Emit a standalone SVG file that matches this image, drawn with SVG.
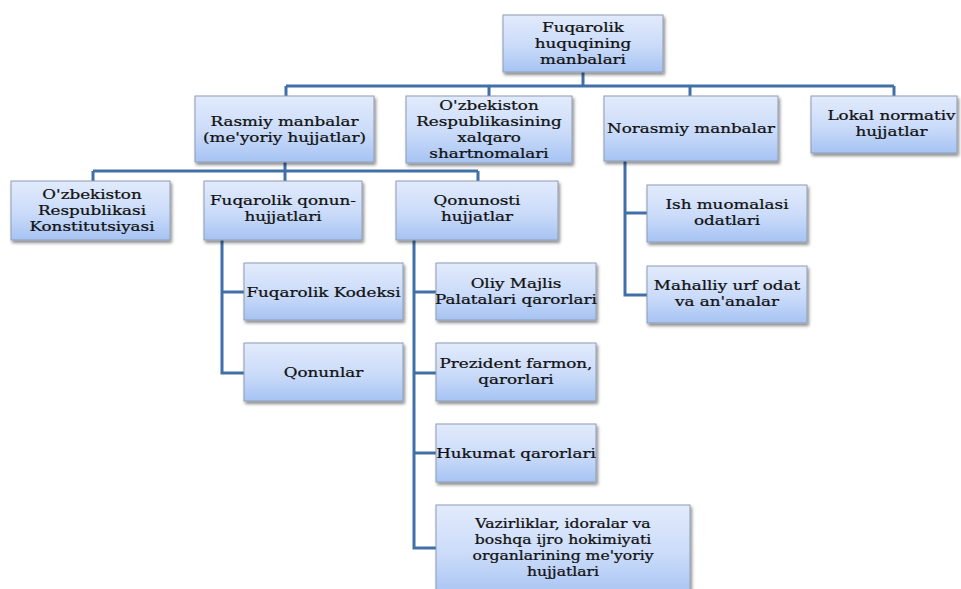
<svg xmlns="http://www.w3.org/2000/svg" width="961" height="589" viewBox="0 0 961 589">
<defs>
<linearGradient id="bg" x1="0" y1="0" x2="0" y2="1">
<stop offset="0" stop-color="#e2ebfc"/>
<stop offset="0.55" stop-color="#cadbf9"/>
<stop offset="1" stop-color="#a6c3f3"/>
</linearGradient>
<filter id="sh" x="-10%" y="-10%" width="130%" height="140%">
<feDropShadow dx="1.5" dy="2.5" stdDeviation="1.5" flood-color="#000" flood-opacity="0.45"/>
</filter>
</defs>
<style>
.box{fill:url(#bg);stroke:#8d9cb3;stroke-width:1;filter:url(#sh)}
.t{font-family:"DejaVu Serif","Liberation Serif",serif;font-size:13.5px;fill:#111;stroke:#111;stroke-width:0.25;text-anchor:middle}
.s{font-size:12.6px}
.c{fill:none;stroke:#4070a8;stroke-width:3}
</style>
<rect width="961" height="589" fill="#fff"/>
<g id="connectors">
<path class="c" d="M583 72V86M286 86H894M286 86V96M489 86V96M690 86V96M894 86V96"/>
<path class="c" d="M285 162V171M93 171H478M93 171V181M285 171V181M478 171V181"/>
<path class="c" d="M222 240V373H244M222 292H244"/>
<path class="c" d="M414 240V548H436M414 292H436M414 373H436M414 453H436"/>
<path class="c" d="M625 161V295H647M625 213H647"/>
</g>
<g id="n-top"><rect class="box" x="503" y="15" width="160" height="57"/>
<g transform="translate(583,0) scale(1.24,1)"><text class="t" x="0" y="32.5">Fuqarolik</text><text class="t" x="0" y="48.5">huquqining</text><text class="t" x="0" y="64.5">manbalari</text></g></g>
<g id="n-rasmiy"><rect class="box" x="195" y="96" width="179" height="66"/>
<g transform="translate(284.5,0) scale(1.24,1)"><text class="t" x="0" y="126">Rasmiy manbalar</text><text class="t" x="0" y="142">(me'yoriy hujjatlar)</text></g></g>
<g id="n-xalqaro"><rect class="box" x="406" y="96" width="166" height="67"/>
<g transform="translate(489,0) scale(1.24,1)"><text class="t" x="0" y="110">O'zbekiston</text><text class="t" x="0" y="126">Respublikasining</text><text class="t" x="0" y="142">xalqaro</text><text class="t" x="0" y="158">shartnomalari</text></g></g>
<g id="n-norasmiy"><rect class="box" x="604" y="96" width="174" height="65"/>
<g transform="translate(691,0) scale(1.24,1)"><text class="t" x="0" y="133">Norasmiy manbalar</text></g></g>
<g id="n-lokal"><rect class="box" x="811" y="96" width="146" height="57"/>
<g transform="translate(891.5,0) scale(1.24,1)"><text class="t" x="0" y="120">Lokal normativ</text><text class="t" x="0" y="136">hujjatlar</text></g></g>
<g id="n-konst"><rect class="box" x="11" y="181" width="159" height="59"/>
<g transform="translate(92,0) scale(1.24,1)"><text class="t" x="0" y="199">O'zbekiston</text><text class="t" x="0" y="215">Respublikasi</text><text class="t" x="0" y="231">Konstitutsiyasi</text></g></g>
<g id="n-fqh"><rect class="box" x="204" y="181" width="158" height="59"/>
<g transform="translate(283,0) scale(1.24,1)"><text class="t" x="0" y="205">Fuqarolik qonun-</text><text class="t" x="0" y="221">hujjatlari</text></g></g>
<g id="n-qonunosti"><rect class="box" x="396" y="181" width="162" height="59"/>
<g transform="translate(477,0) scale(1.24,1)"><text class="t" x="0" y="205">Qonunosti</text><text class="t" x="0" y="221">hujjatlar</text></g></g>
<g id="n-kodeksi"><rect class="box" x="244" y="263" width="159" height="57"/>
<g transform="translate(323.5,0) scale(1.24,1)"><text class="t" x="0" y="297">Fuqarolik Kodeksi</text></g></g>
<g id="n-qonunlar"><rect class="box" x="244" y="343" width="159" height="58"/>
<g transform="translate(323.5,0) scale(1.24,1)"><text class="t" x="0" y="377">Qonunlar</text></g></g>
<g id="n-oliy"><rect class="box" x="436" y="263" width="160" height="57"/>
<g transform="translate(516,0) scale(1.24,1)"><text class="t" x="0" y="288">Oliy Majlis</text><text class="t" x="0" y="304">Palatalari qarorlari</text></g></g>
<g id="n-prezident"><rect class="box" x="436" y="343" width="160" height="58"/>
<g transform="translate(516,0) scale(1.24,1)"><text class="t" x="0" y="368">Prezident farmon,</text><text class="t" x="0" y="384">qarorlari</text></g></g>
<g id="n-hukumat"><rect class="box" x="436" y="424" width="160" height="58"/>
<g transform="translate(516,0) scale(1.24,1)"><text class="t" x="0" y="458">Hukumat qarorlari</text></g></g>
<g id="n-vazir"><rect class="box" x="436" y="505" width="254" height="92"/>
<g transform="translate(563,0) scale(1.24,1)"><text class="t s" x="0" y="528">Vazirliklar, idoralar va</text><text class="t s" x="0" y="544">boshqa ijro hokimiyati</text><text class="t s" x="0" y="560">organlarining me'yoriy</text><text class="t s" x="0" y="576">hujjatlari</text></g></g>
<g id="n-ish"><rect class="box" x="647" y="185" width="160" height="57"/>
<g transform="translate(727,0) scale(1.24,1)"><text class="t" x="0" y="209">Ish muomalasi</text><text class="t" x="0" y="225">odatlari</text></g></g>
<g id="n-mahalliy"><rect class="box" x="647" y="266" width="160" height="57"/>
<g transform="translate(727,0) scale(1.24,1)"><text class="t" x="0" y="290">Mahalliy urf odat</text><text class="t" x="0" y="306">va an'analar</text></g></g>
</svg>
